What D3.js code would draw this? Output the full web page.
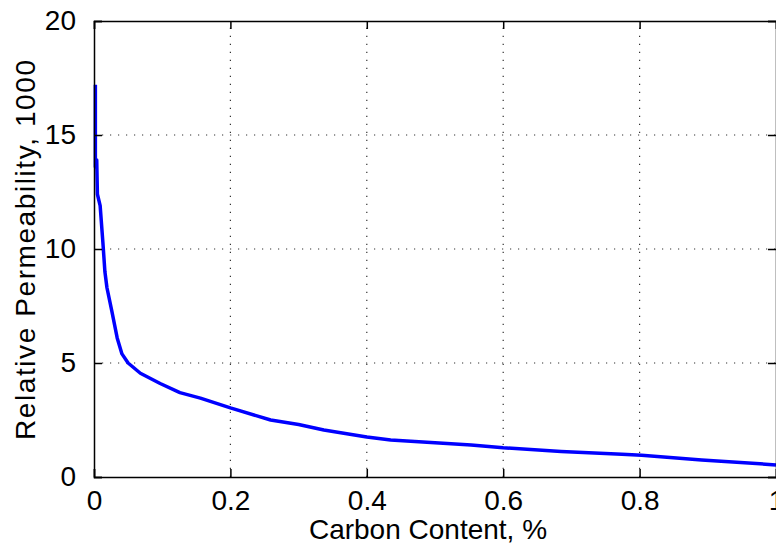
<!DOCTYPE html>
<html>
<head>
<meta charset="utf-8">
<script src="https://cdn.jsdelivr.net/npm/d3@7"></script>
<style>
	body { margin: 0; background: #fff; }
	svg { display: block; }
</style>
</head>
<body>
<div id="chart"></div>
<script>
// carbon content (%) and relative permeability (x1000)
const carbon = [0.002, 0.002, 0.004, 0.005, 0.009, 0.013, 0.016, 0.019, 0.026, 0.034, 0.041, 0.05, 0.068, 0.097, 0.126, 0.156, 0.2, 0.259, 0.3, 0.337, 0.4, 0.435, 0.5, 0.553, 0.6, 0.685, 0.774, 0.803, 0.891, 1.0]
const permeability = [17.2, 13.6, 13.9, 12.4, 11.9, 10.3, 9.0, 8.3, 7.3, 6.1, 5.4, 5.0, 4.55, 4.1, 3.7, 3.46, 3.03, 2.5, 2.3, 2.06, 1.75, 1.62, 1.5, 1.4, 1.28, 1.12, 1.0, 0.95, 0.75, 0.53]

const xTicks = [0, 0.2, 0.4, 0.6, 0.8, 1]
const yTicks = [0, 5, 10, 15, 20]
const xTickLabels = ['0', '0.2', '0.4', '0.6', '0.8', '1']

const width = 776
const height = 550
const FONT = '"Liberation Sans", Arial, Helvetica, sans-serif'

// the right edge of the axes box sits just past the picture
let plotLeft = 94, plotRight = 776, plotTop = 21, plotBottom = 477

let svg = d3.select('#chart').append('svg')
	.attr('width', width)
	.attr('height', height)

let x = d3.scaleLinear().domain([0, 1]).range([plotLeft, plotRight])
let y = d3.scaleLinear().domain([0, 20]).range([plotBottom, plotTop])

// dotted grid
let grid = svg.append('g')
	.attr('stroke', '#333')
	.attr('stroke-width', 1.2)
	.attr('stroke-dasharray', '1.2,6.8')

grid.selectAll('.vgrid')
	.data(xTicks.slice(1, -1))
	.enter().append('line')
	.attr('x1', d => x(d)).attr('x2', d => x(d))
	.attr('y1', plotBottom).attr('y2', plotTop)

grid.selectAll('.hgrid')
	.data(yTicks.slice(1, -1))
	.enter().append('line')
	.attr('x1', plotLeft).attr('x2', plotRight)
	.attr('y1', d => y(d)).attr('y2', d => y(d))

// the curve
let points = carbon.map((c, i) => [c, permeability[i]])

let line = d3.line()
	.x(d => x(d[0]))
	.y(d => y(d[1]))

svg.append('path')
	.datum(points)
	.attr('d', line)
	.attr('fill', 'none')
	.attr('stroke', '#0000ff')
	.attr('stroke-width', 3.5)
	.attr('stroke-linejoin', 'round')

// axes box with inward ticks (matlab style)
let tickLen = 8

let xBottom = d3.axisBottom(x).tickValues(xTicks).tickSize(-tickLen).tickFormat((d, i) => xTickLabels[i])
let xTop = d3.axisTop(x).tickValues(xTicks).tickSize(-tickLen).tickFormat('')
let yLeft = d3.axisLeft(y).tickValues(yTicks).tickSize(-tickLen).tickPadding(tickLen + 10)
let yRight = d3.axisRight(y).tickValues(yTicks).tickSize(-tickLen).tickFormat('')

function styleAxis(g) {
	g.select('.domain').attr('stroke', '#000').attr('stroke-width', 1.5)
	g.selectAll('.tick line').attr('stroke', '#000').attr('stroke-width', 1.5)
	g.selectAll('.tick text')
		.attr('fill', '#000')
		.style('font-family', FONT)
		.style('font-size', '28px')
}

svg.append('g').attr('transform', `translate(0,${plotBottom})`).call(xBottom).call(styleAxis)
	.selectAll('.tick text').attr('dy', '0.35em').attr('y', 23)
svg.append('g').attr('transform', `translate(0,${plotTop})`).call(xTop).call(styleAxis)
svg.append('g').attr('transform', `translate(${plotLeft},0)`).call(yLeft).call(styleAxis)
svg.append('g').attr('transform', `translate(${plotRight},0)`).call(yRight).call(styleAxis)

// axis titles
svg.append('text')
	.attr('x', 428)
	.attr('y', 539)
	.attr('text-anchor', 'middle')
	.style('font-family', FONT)
	.style('font-size', '28px')
	.text('Carbon Content, %')

svg.append('text')
	.attr('transform', 'translate(35,250) rotate(-90)')
	.attr('text-anchor', 'middle')
	.attr('textLength', 380)
	.attr('lengthAdjust', 'spacing')
	.style('font-family', FONT)
	.style('font-size', '28px')
	.text('Relative Permeability, 1000')
</script>
</body>
</html>
